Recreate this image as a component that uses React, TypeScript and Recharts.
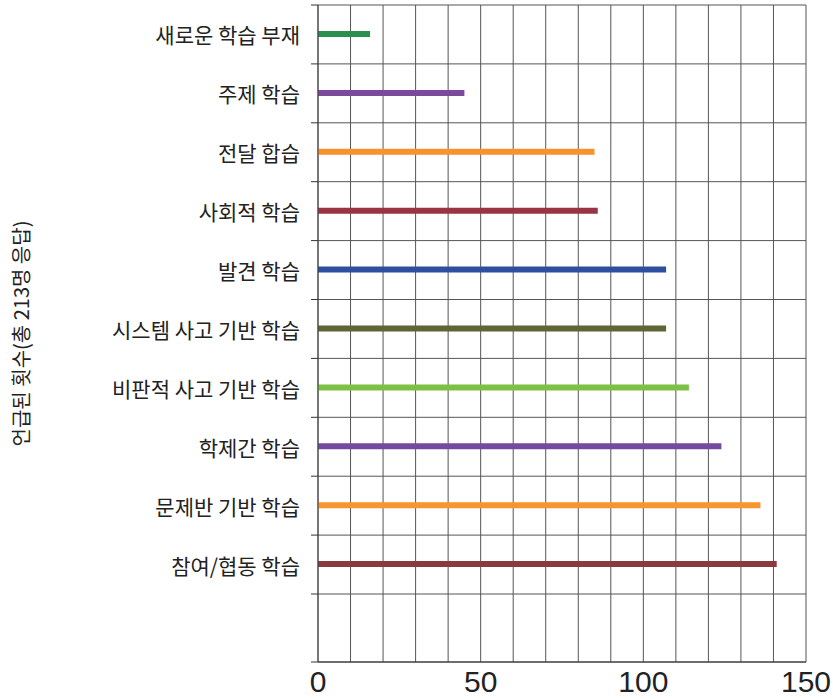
import { BarChart, Bar, Cell, XAxis, YAxis, CartesianGrid, Label } from 'recharts'

// categories, top to bottom
const CATEGORIES = [
  '새로운 학습 부재',
  '주제 학습',
  '전달 합습',
  '사회적 학습',
  '발견 학습',
  '시스템 사고 기반 학습',
  '비판적 사고 기반 학습',
  '학제간 학습',
  '문제반 기반 학습',
  '참여/협동 학습',
]
const COUNTS = [16, 45, 85, 86, 107, 107, 114, 124, 136, 141]
const BAR_COLORS = [
  '#2a8f4e', '#7d4a9b', '#f7922e', '#983443', '#2e4fa0',
  '#5f6535', '#7cc145', '#744a9e', '#f7952f', '#8a3a3d',
]
const X_TICKS = [0, 10, 20, 30, 40, 50, 60, 70, 80, 90, 100, 110, 120, 130, 140, 150]
const X_LABELED = [0, 50, 100, 150]
const Y_TITLE = '언급된 횟수(총 213명 응답)'

const W = 833
const H = 699
const TOP = 5
const RIGHT = 27
const X_AXIS_H = 37
const Y_AXIS_W = 318
const PAD_BOTTOM = 68

const KR_FONT = '"Noto Sans CJK KR", "Noto Sans", sans-serif'

const chartData = CATEGORIES.map((name, i) => ({ name, value: COUNTS[i] }))

const plotH = H - TOP - X_AXIS_H
const band = (plotH - PAD_BOTTOM) / CATEGORIES.length

function rowLines({ offset }: any) {
  const out: number[] = []
  for (let k = 0; k <= CATEGORIES.length; k++) out.push(offset.top + k * band)
  out.push(offset.top + offset.height)
  return out
}

function CategoryTick(props: any) {
  const { y, payload, index } = props
  const last = index === CATEGORIES.length - 1
  const x0 = Y_AXIS_W - 7
  return (
    <g>
      <text
        x={Y_AXIS_W - 18}
        y={y}
        textAnchor="end"
        dominantBaseline="central"
        fontSize={21}
        fill="#222"
        fontFamily={KR_FONT}
      >
        {payload.value}
      </text>
      <line x1={x0} x2={Y_AXIS_W} y1={y - band / 2} y2={y - band / 2} stroke="#333" />
      {last && (
        <>
          <line x1={x0} x2={Y_AXIS_W} y1={y + band / 2} y2={y + band / 2} stroke="#333" />
          <line x1={x0} x2={Y_AXIS_W} y1={y + band / 2 + PAD_BOTTOM} y2={y + band / 2 + PAD_BOTTOM} stroke="#333" />
        </>
      )}
    </g>
  )
}

export default function App() {
  return (
    <div style={{ position: 'absolute', left: 0, top: 0, background: '#fff' }}>
      <BarChart
        width={W}
        height={H}
        data={chartData}
        layout="vertical"
        margin={{ top: TOP, right: RIGHT, bottom: 0, left: 0 }}
        barSize={6}
      >
        <CartesianGrid
          stroke="#555"
          horizontalCoordinatesGenerator={rowLines}
        />
        <XAxis
          type="number"
          domain={[0, 150]}
          ticks={X_TICKS}
          interval={0}
          height={X_AXIS_H}
          tickLine={false}
          axisLine={{ stroke: '#333' }}
          tickMargin={3}
          tickFormatter={(v: number) => (X_LABELED.includes(v) ? String(v) : '')}
          tick={{ fontSize: 30, fill: '#222', fontFamily: '"Liberation Sans", Arial, sans-serif' }}
        />
        <YAxis
          type="category"
          dataKey="name"
          width={Y_AXIS_W}
          interval={0}
          padding={{ top: 0, bottom: PAD_BOTTOM }}
          tickLine={false}
          axisLine={{ stroke: '#444' }}
          tick={<CategoryTick />}
        >
          <Label
            value={Y_TITLE}
            angle={-90}
            position="insideLeft"
            offset={22}
            style={{ textAnchor: 'middle', fontSize: 20, fill: '#222', fontFamily: KR_FONT }}
          />
        </YAxis>
        <Bar dataKey="value" isAnimationActive={false}>
          {chartData.map((_, i) => (
            <Cell key={i} fill={BAR_COLORS[i]} />
          ))}
        </Bar>
      </BarChart>
    </div>
  )
}
